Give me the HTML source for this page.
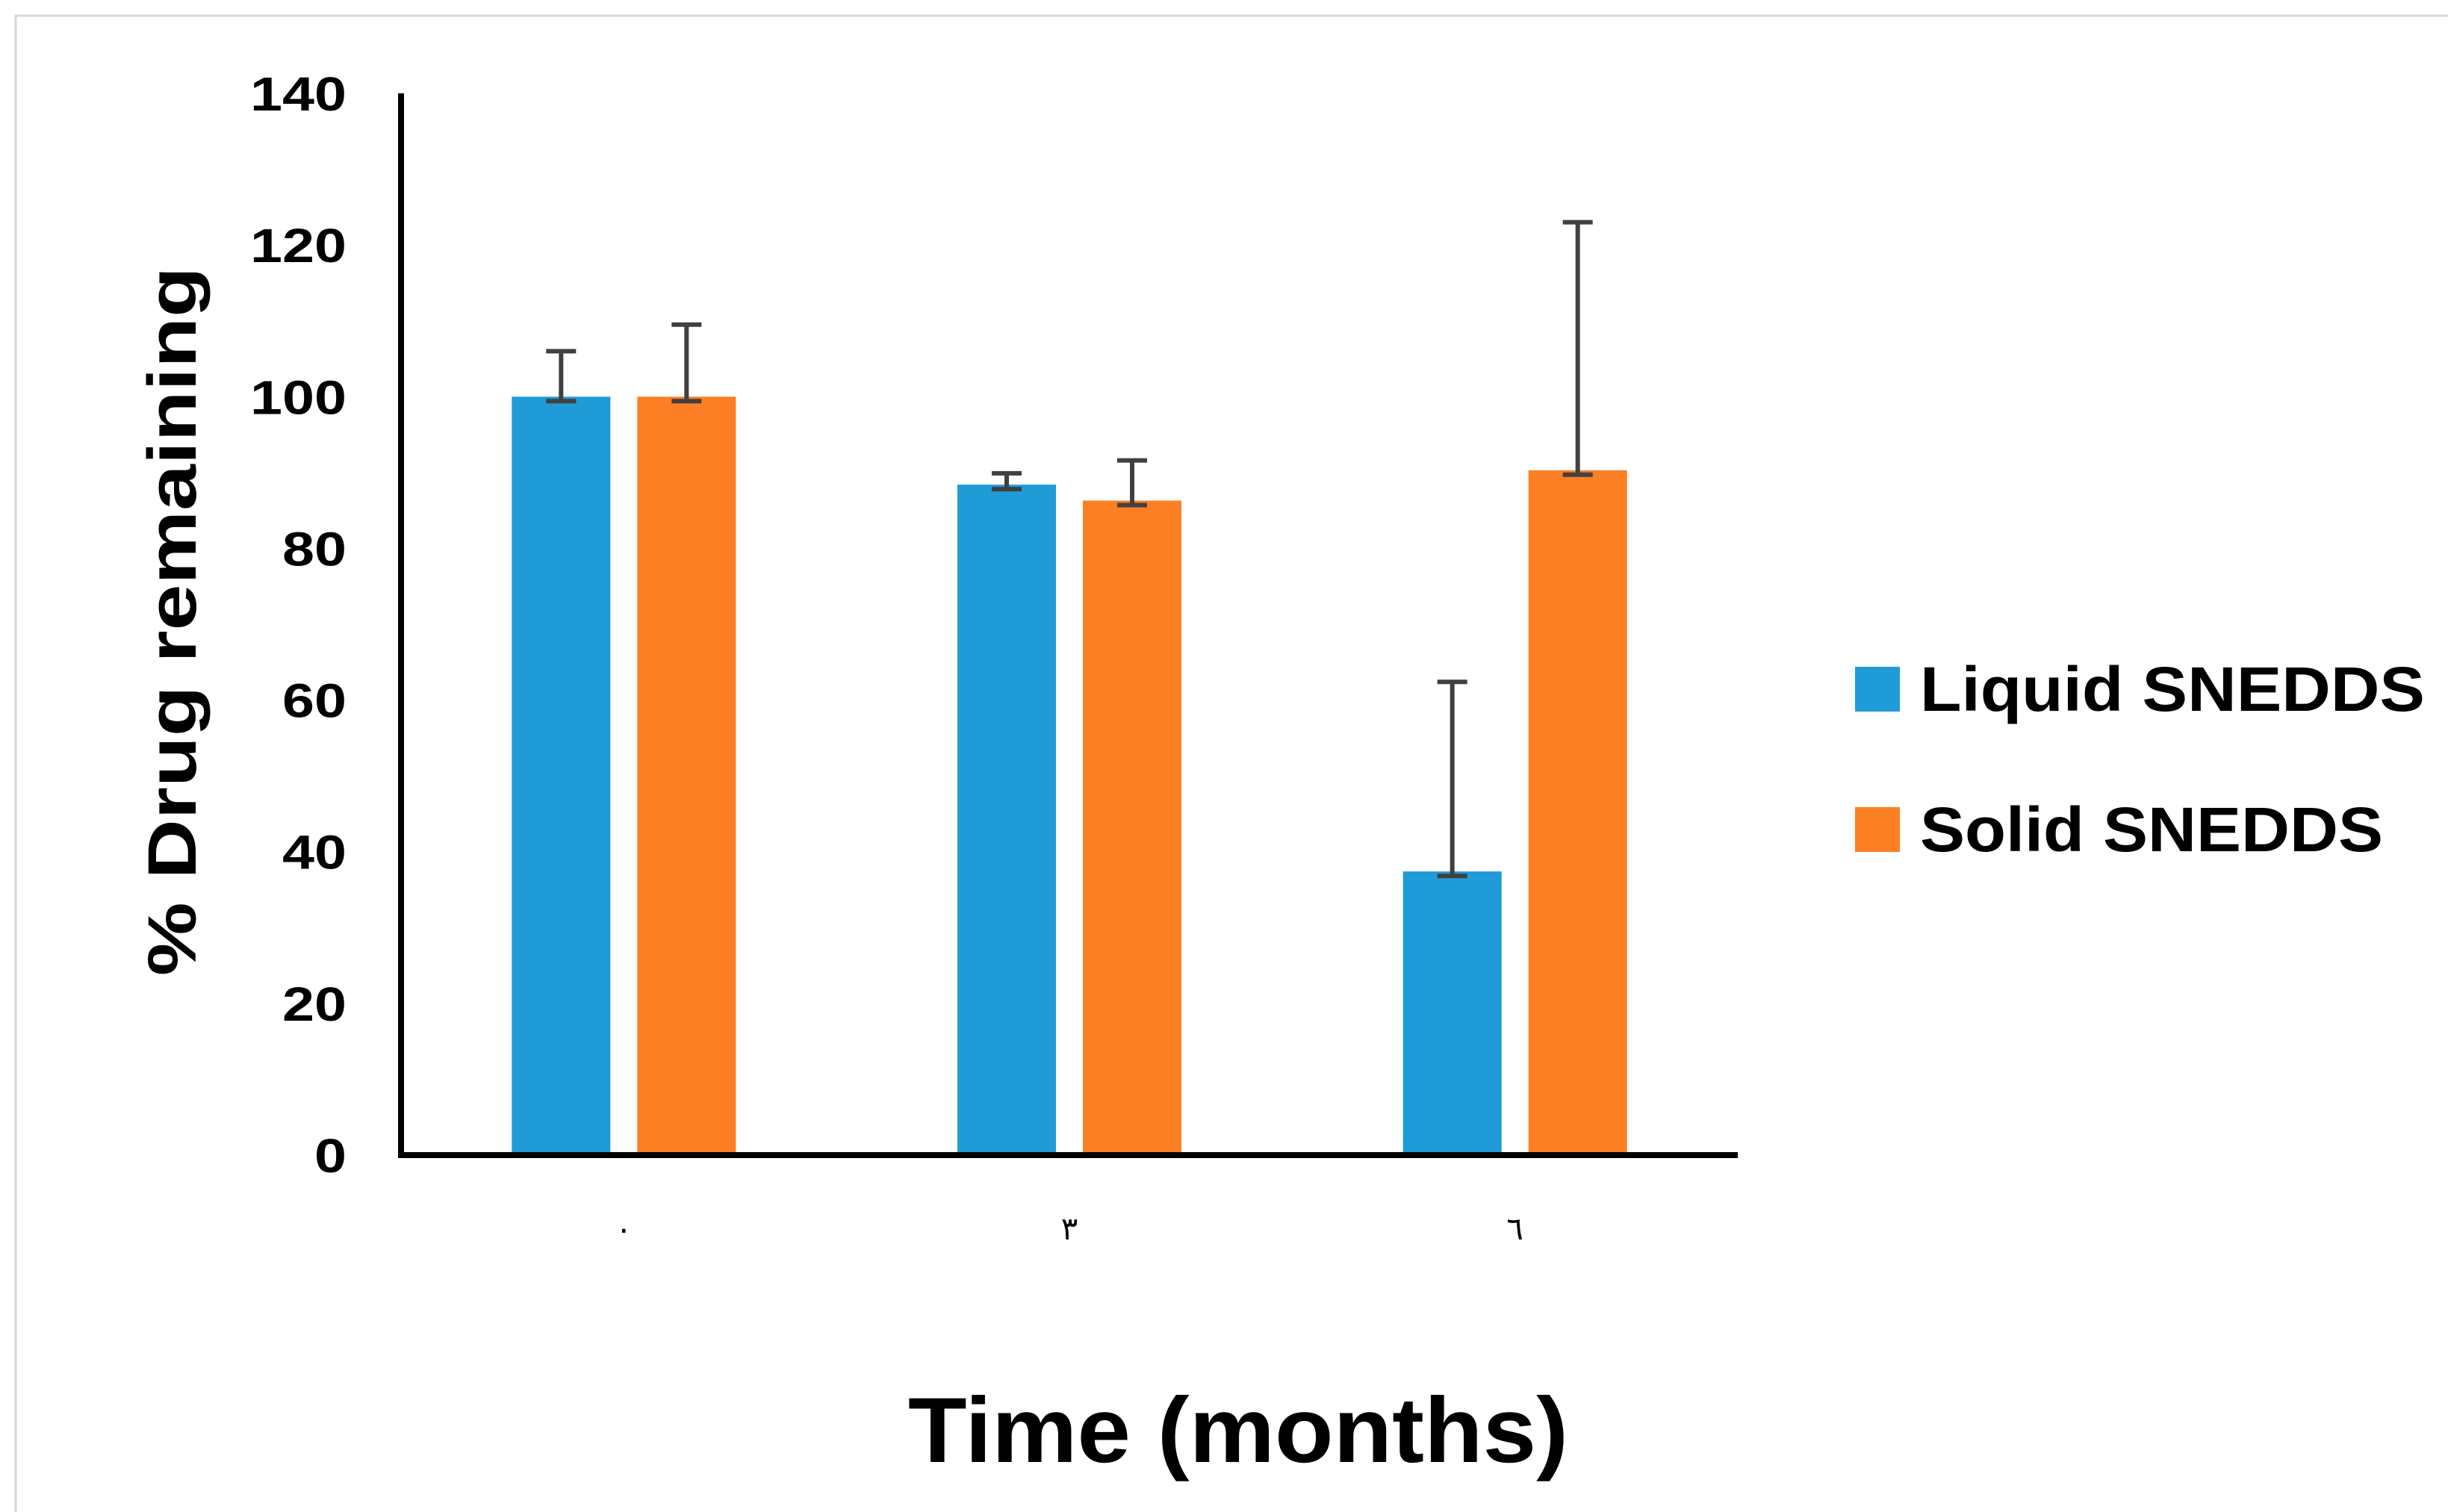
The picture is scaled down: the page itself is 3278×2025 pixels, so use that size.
<!DOCTYPE html>
<html><head><meta charset="utf-8"><style>
html,body{margin:0;padding:0;background:#fff;}
svg{display:block;}
text{font-family:"Liberation Sans",sans-serif;font-weight:bold;fill:#000;}
</style></head><body>
<svg id="chart" width="3278" height="2025" viewBox="0 0 3278 2025" xmlns="http://www.w3.org/2000/svg">
<rect x="21" y="21" width="3270" height="2020" fill="none" stroke="#d6d6d6" stroke-width="3"/>
<g id="plot"></g>
<text x="0" y="0" transform="translate(262,832) rotate(-90)" text-anchor="middle" font-size="92" textLength="950" lengthAdjust="spacingAndGlyphs">% Drug remaining</text>
<text x="1658" y="1958" text-anchor="middle" font-size="124" textLength="884" lengthAdjust="spacingAndGlyphs">Time (months)</text>
<rect x="2484" y="893" width="60" height="60" fill="#1f9bd7"/>
<text x="2571" y="952" font-size="84" textLength="676" lengthAdjust="spacingAndGlyphs">Liquid SNEDDS</text>
<rect x="2484" y="1081" width="60" height="60" fill="#fd7f24"/>
<text x="2571" y="1140" font-size="84" textLength="620" lengthAdjust="spacingAndGlyphs">Solid SNEDDS</text>
</svg>
<script>
const categories = ["٠", "٣", "٦"];
const liquidValues = [100, 88.4, 37.4];
const liquidErrors = [6, 1.5, 25];
const solidValues = [100, 86.3, 90.3];
const solidErrors = [9.5, 5.3, 32.7];
const yTicks = [0, 20, 40, 60, 80, 100, 120, 140];

const NS = "http://www.w3.org/2000/svg";
const g = document.getElementById('plot');
const X0 = 537, X1 = 2327, Y0 = 1547, Y140 = 125;
const yScale = v => Y0 - (v / 140) * (Y0 - Y140);
const band = (X1 - X0) / categories.length;
const xCenter = i => X0 + band * (i + 0.5);
const BW = 132, GAP = 36;

function mk(tag, attrs) {
  const e = document.createElementNS(NS, tag);
  for (const k in attrs) e.setAttribute(k, attrs[k]);
  g.appendChild(e);
  return e;
}

yTicks.forEach(t => {
  const s = String(t);
  const e = mk('text', {x: 464, y: yScale(t) + 23, 'text-anchor': 'end', 'font-size': 64, textLength: 43 * s.length, lengthAdjust: 'spacingAndGlyphs'});
  
  
  e.textContent = s;
});

function drawSeries(vals, errs, color, offset, name) {
  vals.forEach((v, i) => {
    const x = xCenter(i) + offset - BW / 2;
    const b = mk('rect', {x: x, y: yScale(v), width: BW, height: Y0 - yScale(v), fill: color});
    
    
    const cx = x + BW / 2, top = yScale(v + errs[i]), bot = yScale(v) + 6;
    const eg = document.createElementNS(NS, 'g');
    
    
    g.appendChild(eg);
    [[cx, top, cx, bot], [cx - 20, top, cx + 20, top], [cx - 20, bot, cx + 20, bot]].forEach(l => {
      const ln = document.createElementNS(NS, 'line');
      ln.setAttribute('x1', l[0]); ln.setAttribute('y1', l[1]);
      ln.setAttribute('x2', l[2]); ln.setAttribute('y2', l[3]);
      ln.setAttribute('stroke', '#404040'); ln.setAttribute('stroke-width', 6);
      eg.appendChild(ln);
    });
  });
}
drawSeries(liquidValues, liquidErrors, '#1f9bd7', -(BW + GAP) / 2, 'liquid');
drawSeries(solidValues, solidErrors, '#fd7f24', (BW + GAP) / 2, 'solid');

categories.forEach((c, i) => {
  const e = mk('text', {x: xCenter(i), y: 1660, 'text-anchor': 'middle', 'font-size': 42, 'font-weight': 'normal', fill: '#444'});
  
  
  e.style.fontFamily = '"DejaVu Sans", sans-serif';
  e.style.fontWeight = 'normal';
  e.textContent = c;
});

const ya = mk('line', {x1: X0, y1: Y140, x2: X0, y2: Y0 + 4, stroke: '#000', 'stroke-width': 8});


const xa = mk('line', {x1: X0 - 4, y1: Y0, x2: X1, y2: Y0, stroke: '#000', 'stroke-width': 8});


</script>
</body></html>
